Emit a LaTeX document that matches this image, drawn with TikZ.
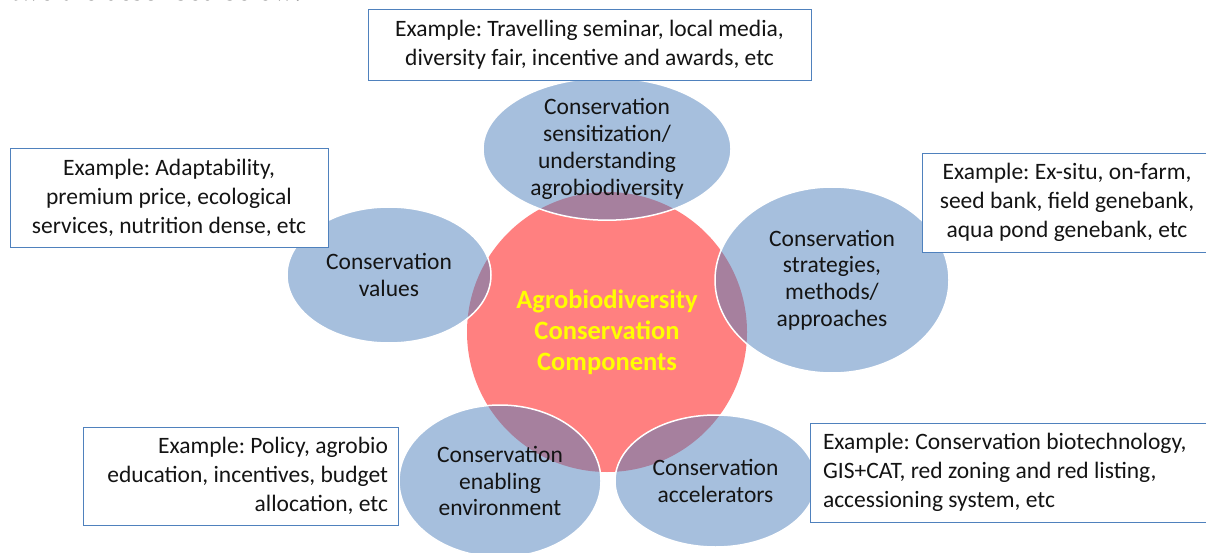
\documentclass[tikz,border=0pt]{standalone}
\usepackage{fontspec}
\setmainfont{Carlito}
\newfontfamily\serifface{Liberation Serif}
\usetikzlibrary{shapes.geometric}
\definecolor{ellblue}{RGB}{79,129,189}
\definecolor{hubred}{RGB}{255,128,128}
\definecolor{boxline}{RGB}{79,129,189}
\definecolor{hubtext}{RGB}{255,255,0}
\definecolor{txt}{RGB}{20,20,20}
\frenchspacing
\tikzset{
  hub/.style={circle, fill=hubred, draw=none, minimum size=280pt, inner sep=0pt,
    font=\fontsize{26.5}{31}\selectfont\bfseries, text=hubtext, align=center},
  comp/.style={ellipse, fill=ellblue, fill opacity=0.5, text opacity=1, draw=white,
    line width=1.5pt, inner sep=0pt, text=txt, align=center,
    font=\fontsize{23.5}{26.8}\selectfont},
  exbox/.style={rectangle, draw=boxline, line width=0.9pt, fill=white, text=txt,
    inner sep=0pt, font=\fontsize{23.5}{29}\selectfont}
}
\begin{document}
\begin{tikzpicture}[x=1pt,y=-1pt]
\useasboundingbox (0,0) rectangle (1206,553);
\fill[white] (0,0) rectangle (1206,553);
% clipped running text at top
\node[anchor=base west, inner sep=0pt, font=\serifface\fontsize{29}{32}\selectfont] (run) at (11,0.5) {two are described below:};
% hub
\node[hub] (hub) at (607,332) {Agrobiodiversity\\Conservation\\Components};
% components
\node[comp, minimum width=248pt, minimum height=114pt] (sens) at (607,149)
  {Conservation\\sensitization/\\understanding\\agrobiodiversity};
\node[comp, minimum width=204pt, minimum height=136pt] (vals) at (389,275)
  {Conservation\\values};
\node[comp, minimum width=234pt, minimum height=186pt] (strat) at (832,280)
  {Conservation\\strategies,\\methods/\\approaches};
\node[comp, minimum width=202pt, minimum height=152pt] (enab) at (500,481)
  {Conservation\\enabling\\environment};
\node[comp, minimum width=201pt, minimum height=132pt] (acc) at (715.5,481)
  {Conservation\\accelerators};
% example boxes
\node[exbox, minimum width=443pt, minimum height=71pt, align=center] (exsens) at (589.5,44.5)
  {Example: Travelling seminar, local media,\\diversity fair, incentive and awards, etc};
\node[exbox, minimum width=318pt, minimum height=99pt, align=center] (exvals) at (169,197.5)
  {Example: Adaptability,\\premium price, ecological\\services, nutrition dense, etc};
\node[exbox, minimum width=290pt, minimum height=99pt, align=center] (exstrat) at (1067,202.5)
  {Example: Ex-situ, on-farm,\\seed bank, field genebank,\\aqua pond genebank, etc};
\node[exbox, minimum width=315pt, minimum height=98pt, text width=295pt, align=flush right] (exenab) at (240.5,476)
  {Example: Policy, agrobio\\education, incentives, budget\\allocation, etc};
\node[exbox, minimum width=400pt, minimum height=99pt, text width=374pt, align=flush left] (exacc) at (1010,472.5)
  {Example: Conservation biotechnology,\\GIS+CAT, red zoning and red listing,\\accessioning system, etc};
\end{tikzpicture}
\end{document}
